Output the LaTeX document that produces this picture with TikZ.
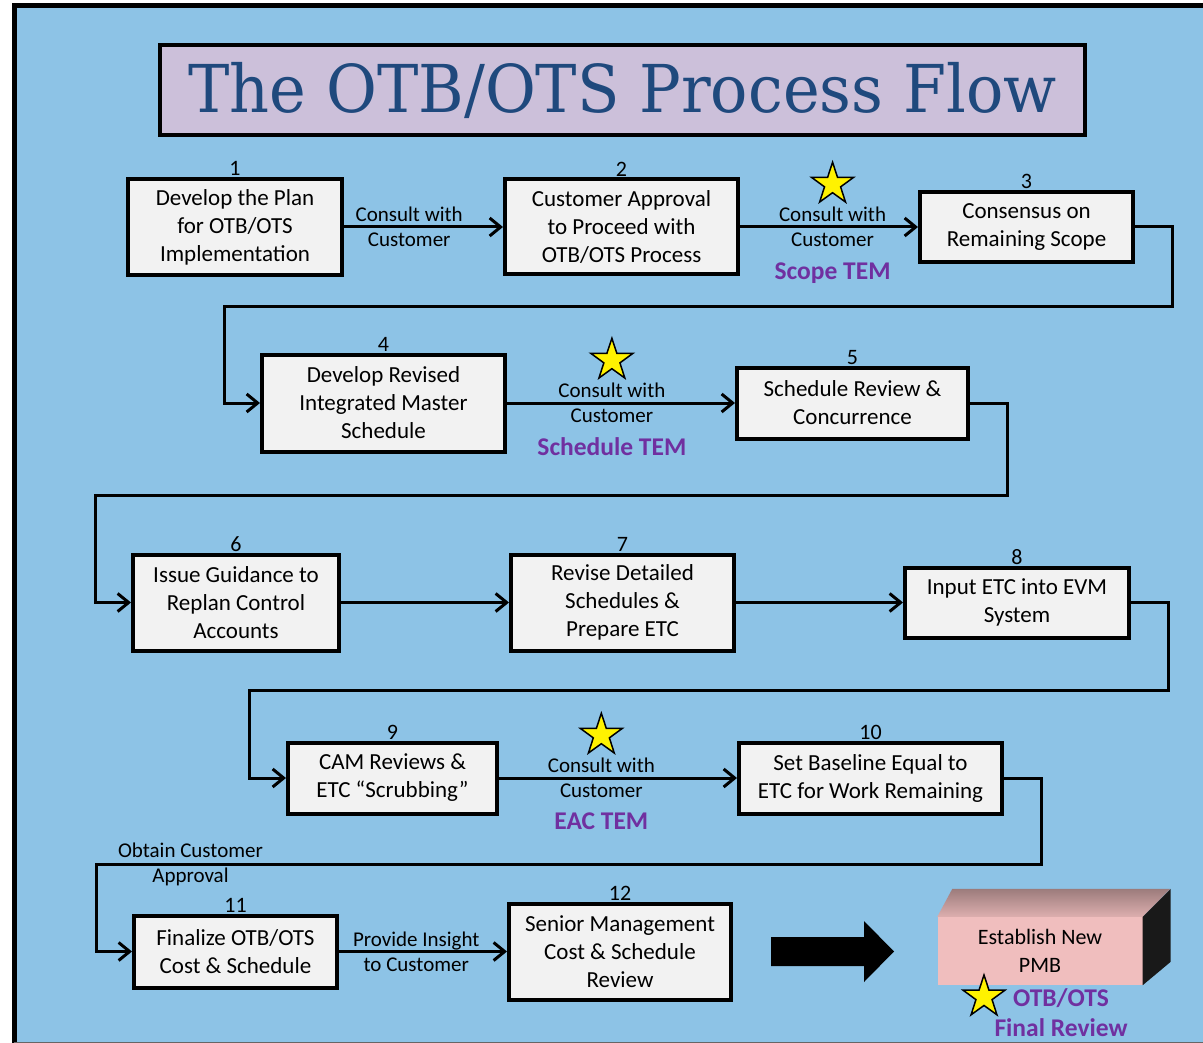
\documentclass[tikz,border=0pt]{standalone}
\usepackage{fontspec}
\setmainfont{Carlito}
\newfontfamily\titlefont{DejaVu Serif}
\usetikzlibrary{arrows.meta,shapes.geometric,positioning}

\definecolor{bgblue}{RGB}{141,195,230}
\definecolor{boxgray}{RGB}{242,242,242}
\definecolor{titlefill}{RGB}{204,192,218}
\definecolor{titleblue}{RGB}{31,73,125}
\definecolor{temviolet}{RGB}{112,48,160}
\definecolor{pmbpink}{RGB}{240,190,190}

\begin{document}
\begin{tikzpicture}[x=1pt,y=-1pt,
    proc/.style={draw=black,line width=4pt,fill=boxgray,align=center,inner sep=0pt,
        font=\fontsize{23}{28}\selectfont,label distance=5pt},
    numlbl/.style={font=\fontsize{22}{22}\selectfont,inner sep=1pt},
    flow/.style={line width=3pt,-{Straight Barb[length=11pt,width=18pt,line width=3pt]}},
    msg/.style={align=center,inner sep=0pt,font=\fontsize{21}{25}\selectfont},
    tem/.style={text=temviolet,align=center,inner sep=0pt,font=\bfseries\fontsize{25.5}{31}\selectfont},
    star5/.style={star,star points=5,star point ratio=2.6,minimum size=44pt,inner sep=0pt,
        draw=black,line width=1.5pt,fill=yellow}]

    \useasboundingbox (0,0) rectangle (1203,1043);
    \fill[bgblue] (14,6) rectangle (1203,1043);
    \draw[line width=5pt] (14,1043) -- (14,6) -- (1203,6);
    \draw[black!60,line width=1pt] (14,1042) -- (1203,1042);

    \node[draw=black,line width=4pt,fill=titlefill,minimum width=925pt,minimum height=90pt,inner sep=0pt] (title) at (622.5,90)
        {\raisebox{-5pt}{\titlefont\fontsize{66}{66}\selectfont\color{titleblue}\scalebox{0.94}[1]{The OTB/OTS Process Flow}}};

    % process steps
    \node[proc,minimum width=214pt,minimum height=96pt,label={[numlbl]above:1}] (b1) at (235,227) {Develop the Plan\\for OTB/OTS\\Implementation};
    \node[proc,minimum width=233pt,minimum height=95pt,label={[numlbl]above:2}] (b2) at (621.5,227) {Customer Approval\\to Proceed with\\OTB/OTS Process};
    \node[proc,minimum width=213pt,minimum height=70pt,label={[numlbl]above:3}] (b3) at (1026.5,227) {Consensus on\\Remaining Scope};
    \node[proc,minimum width=243pt,minimum height=97pt,label={[numlbl]above:4}] (b4) at (383.5,403) {Develop Revised\\Integrated Master\\Schedule};
    \node[proc,minimum width=231pt,minimum height=71pt,label={[numlbl]above:5}] (b5) at (852.5,403) {Schedule Review \&\\Concurrence};
    \node[proc,minimum width=206pt,minimum height=96pt,label={[numlbl]above:6}] (b6) at (236,602.5) {Issue Guidance to\\Replan Control\\Accounts};
    \node[proc,minimum width=223pt,minimum height=96pt,label={[numlbl]above:7}] (b7) at (622.5,602.5) {Revise Detailed\\Schedules \&\\Prepare ETC};
    \node[proc,minimum width=224pt,minimum height=70pt,label={[numlbl]above:8}] (b8) at (1017,602.5) {Input ETC into EVM\\System};
    \node[proc,minimum width=209pt,minimum height=71pt,label={[numlbl]above:9}] (b9) at (392.5,778) {CAM Reviews \&\\ETC “Scrubbing”};
    \node[proc,minimum width=263pt,minimum height=71pt,label={[numlbl]above:10}] (b10) at (870.5,778) {Set Baseline Equal to\\ETC for Work Remaining};
    \node[proc,minimum width=203pt,minimum height=72pt,label={[numlbl]above:11}] (b11) at (235.5,951.5) {Finalize OTB/OTS\\Cost \& Schedule};
    \node[proc,minimum width=222pt,minimum height=96pt,label={[numlbl]above:12}] (b12) at (620,951.5) {Senior Management\\Cost \& Schedule\\Review};

    % straight connectors
    \path[flow] (b1) edge node[msg,pos=0.41] {Consult with\\Customer} (b2);
    \path[flow] (b2) edge node[msg,pos=0.52] (c23) {Consult with\\Customer} (b3);
    \path[flow] (b4) edge node[msg,pos=0.46] (c45) {Consult with\\Customer} (b5);
    \path[flow] (b6) edge (b7);
    \path[flow] (b7) edge (b8);
    \path[flow] (b9) edge node[msg,pos=0.43] (c910) {Consult with\\Customer} (b10);
    \path[flow] (b11) edge node[msg,pos=0.46] {Provide Insight\\to Customer} (b12);

    % wrap-around connectors
    \draw[flow] (b3.east) -- (1172,227) |- (224,307) |- (b4.west);
    \draw[flow] (b5.east) -- (1007,403) |- (95,495) |- (b6.west);
    \draw[flow] (b8.east) -- (1168,602.5) |- (249,690) |- (b9.west);
    \draw[flow] (b10.east) -- (1041,778) |- (96,864) |- (b11.west);
    \node[msg] (appr) at (190.5,864) {Obtain Customer\\Approval};

    % technical evaluation meetings
    \node[star5,above=12pt of c23] (s23) {};
    \node[tem,below=14pt of c23] (t23) {Scope TEM};
    \node[star5,above=12pt of c45] (s45) {};
    \node[tem,below=13pt of c45] (t45) {Schedule TEM};
    \node[star5,above=12pt of c910] (s910) {};
    \node[tem,below=13pt of c910] (t910) {EAC TEM};

    % final step
    \fill (771,937) -- (864,937) -- (864,921) -- (894,951.5) -- (864,982) -- (864,966) -- (771,966) -- cycle;
    \node[fill=pmbpink,minimum width=205pt,minimum height=68pt,inner sep=0pt,align=center,
        font=\fontsize{22}{28}\selectfont] (pmb) at (1040,951) {Establish New\\PMB};
    \shade[top color=black!35!pmbpink,bottom color=black!8!pmbpink] (pmb.north west) -- ++(15,-28) -- ++(218,0) -- (pmb.north east) -- cycle;
    \fill[black!90] (pmb.north east) -- ++(28,-28) -- ++(0,73) -- (pmb.south east) -- cycle;
    \node[star5] (sfr) at (984,997) {};
    \node[tem,font=\bfseries\fontsize{25.5}{30}\selectfont] (tfr) at (1061,1013) {OTB/OTS\\Final Review};
\end{tikzpicture}
\end{document}
